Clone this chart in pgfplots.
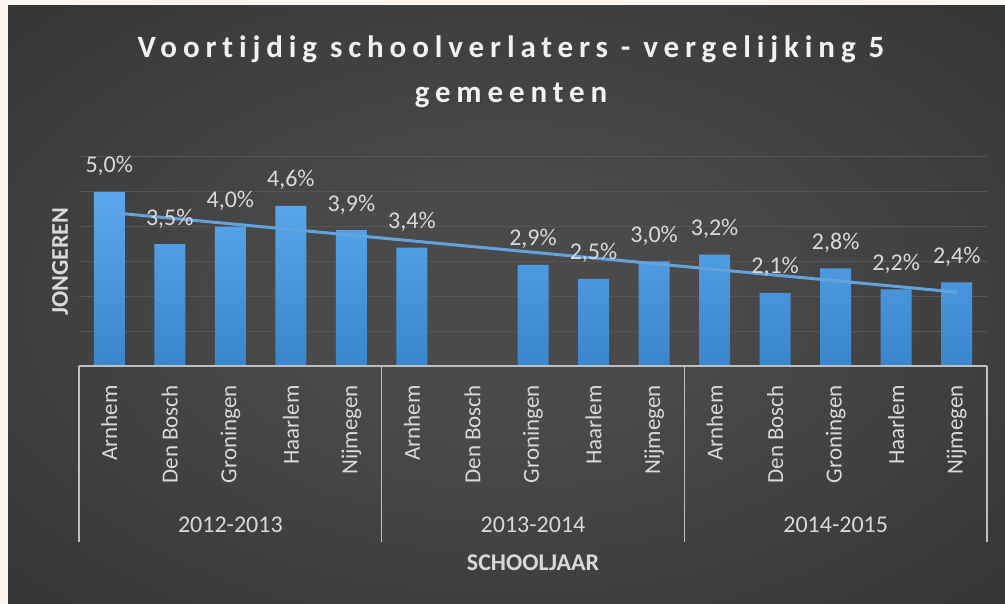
\documentclass[border=0pt]{standalone}
\usepackage{pgfplots}
\pgfplotsset{compat=1.18}
\usepackage{fontspec}
\setmainfont{Carlito}
\newfontfamily\titlefont[LetterSpace=19, Ligatures=NoCommon]{Carlito}
\definecolor{beige}{HTML}{FDF5F0}
\definecolor{bgc}{HTML}{4A4A4A}
\definecolor{bge}{HTML}{262626}
\definecolor{gridc}{HTML}{555555}
\definecolor{axc}{HTML}{BFBFBF}
\definecolor{txt}{HTML}{D9D9D9}
\definecolor{bartop}{HTML}{5CA8EE}
\definecolor{barbot}{HTML}{3A86CC}
\definecolor{trendc}{HTML}{62A3DE}
\pgfdeclareradialshading{bgshade}{\pgfpoint{0bp}{0bp}}{color(0bp)=(bgc); color(10bp)=(bgc); color(55bp)=(bge); color(72bp)=(bge)}
\begin{document}
\begin{tikzpicture}[x=1pt,y=1pt]
\fill[beige] (0,0) rectangle (1005,604);
\shade[shading=bgshade] (8,0) rectangle (1005,598);
\node[rotate=90, anchor=center, inner sep=0pt, text=txt, font=\bfseries\fontsize{24}{28}\selectfont] at (60pt,342.5pt) {JONGEREN};
% title
\node[text=black!75, anchor=base, font=\titlefont\bfseries\fontsize{31}{37}\selectfont] at (512.5,544.5) {Voortijdig schoolverlaters - vergelijking 5};
\node[text=black!75, anchor=base, font=\titlefont\bfseries\fontsize{31}{37}\selectfont] at (512.5,499.5) {gemeenten};
\node[text=white!95!black, anchor=base, font=\titlefont\bfseries\fontsize{31}{37}\selectfont] at (511,546) {Voortijdig schoolverlaters - vergelijking 5};
\node[text=white!95!black, anchor=base, font=\titlefont\bfseries\fontsize{31}{37}\selectfont] at (511,501) {gemeenten};
\begin{axis}[
  at={(79pt,238pt)}, anchor=south west,
  scale only axis, width=908pt, height=209pt,
  xmin=0.5, xmax=15.5, ymin=0, ymax=6,
  axis lines=none,
  clip=false,
  /pgf/number format/assume math mode=true,
]
% gridlines
\foreach \g in {1,...,6}{
  \edef\tmp{\noexpand\draw[gridc, line width=1pt] (axis cs:0.5,\g) -- (axis cs:15.5,\g);}
  \tmp
}
\addplot[ybar, bar width=31pt, draw=none, top color=bartop, bottom color=barbot,
  nodes near coords={\pgfmathprintnumber[fixed,fixed zerofill,precision=1,use comma]{\pgfplotspointmeta}\%},
  nodes near coords style={anchor=base, yshift=19pt, inner sep=0pt, text=txt, font=\fontsize{24}{28}\selectfont},
] coordinates {
  (1,5.0) (2,3.5) (3,4.0) (4,4.6) (5,3.9)
  (6,3.4) (8,2.9) (9,2.5) (10,3.0)
  (11,3.2) (12,2.1) (13,2.8) (14,2.2) (15,2.4)
};
\addplot[trendc, line width=3pt, no marks, sharp plot] coordinates {(1,4.41) (15,2.12)};
% axis line and group separators
\draw[axc, line width=1.5pt] (axis cs:0.5,0) -- (axis cs:15.5,0);
\foreach \xx in {0.5,5.5,10.5,15.5}{
  \edef\tmp{\noexpand\draw[axc, line width=1.5pt] (axis cs:\xx,0) -- ++(0pt,-176pt);}
  \tmp
}
% category labels
\foreach \xx/\nm in {1/Arnhem,2/Den Bosch,3/Groningen,4/Haarlem,5/Nijmegen,6/Arnhem,7/Den Bosch,8/Groningen,9/Haarlem,10/Nijmegen,11/Arnhem,12/Den Bosch,13/Groningen,14/Haarlem,15/Nijmegen}{
  \edef\tmp{\noexpand\node[rotate=90, anchor=east, inner sep=0pt, text=txt, font=\noexpand\fontsize{23}{27}\noexpand\selectfont] at ([yshift=-19pt]axis cs:\xx,0) {\nm};}
  \tmp
}
\foreach \xx/\nm in {3/2012-2013,8/2013-2014,13/2014-2015}{
  \edef\tmp{\noexpand\node[text=txt, font=\noexpand\fontsize{24}{28}\noexpand\selectfont] at ([yshift=-159pt]axis cs:\xx,0) {\nm};}
  \tmp
}
\node[text=txt, font=\bfseries\fontsize{24}{28}\selectfont] at ([yshift=-197pt]axis cs:8,0) {SCHOOLJAAR};
\end{axis}
\path (0,0) rectangle (1005,604);
\end{tikzpicture}
\end{document}
